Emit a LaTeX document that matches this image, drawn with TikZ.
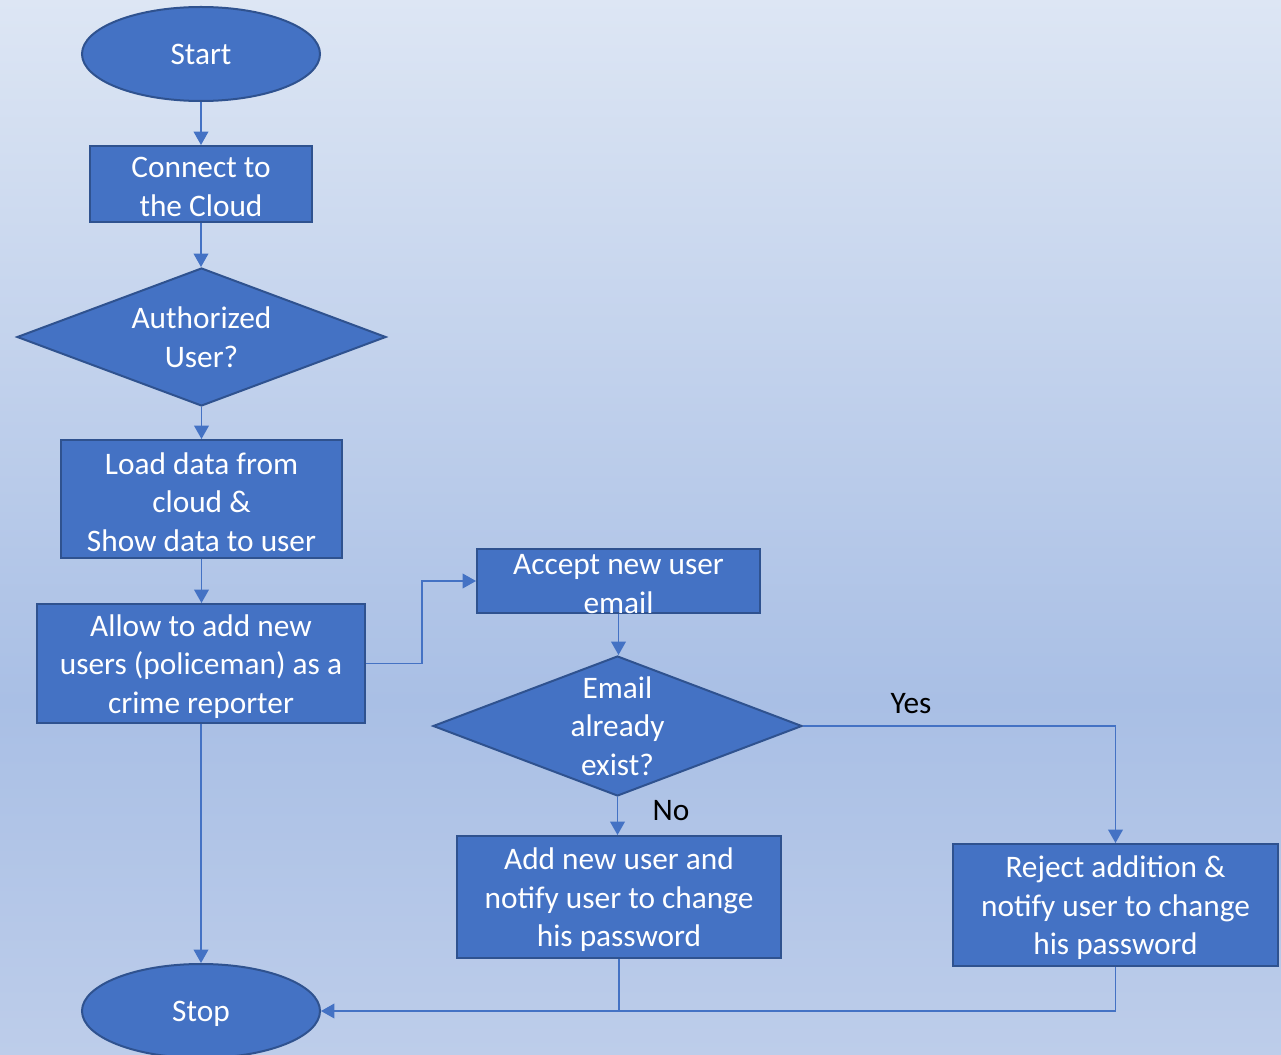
\documentclass[tikz,border=0pt]{standalone}
\usepackage{fontspec}
\setmainfont{Carlito}
\usetikzlibrary{shapes.geometric,arrows.meta}
\definecolor{bgtop}{HTML}{DDE6F4}
\definecolor{bgmid}{HTML}{A9BFE5}
\definecolor{bgbot}{HTML}{BDCDEA}
\definecolor{boxfill}{HTML}{4472C4}
\definecolor{boxline}{HTML}{2F528F}
\definecolor{connc}{HTML}{4472C4}
\begin{document}
\begin{tikzpicture}[x=0.75pt,y=-0.75pt,
  every node/.style={font=\fontsize{23.5}{29}\selectfont},
  flowbox/.style={draw=boxline,line width=1.5pt,fill=boxfill,inner sep=0pt},
  flowtext/.style={text=white,align=center,inner sep=0pt,yshift=-2.2pt},
  dectext/.style={text=white,align=center,inner sep=0pt},
  txt/.style={label={[flowtext]center:#1}},
  dtxt/.style={label={[dectext]center:#1}},
  term/.style={flowbox,ellipse},
  decision/.style={flowbox,diamond},
  arr/.style={draw=connc,line width=1.1pt,-{Triangle[width=11pt,length=10pt]}},
  plain/.style={draw=connc,line width=1.1pt},
  lbl/.style={text=black,inner sep=0pt}]
\shade[top color=bgtop,bottom color=bgmid] (0,0) rectangle (1281,700);
\shade[top color=bgmid,bottom color=bgbot] (0,699.5) rectangle (1281,1055);
\useasboundingbox (0,0) rectangle (1281,1055);

\node[term,minimum width=178.5pt,minimum height=70.5pt,dtxt={Start}] (start) at (201,54) {};
\node[flowbox,minimum width=166.5pt,minimum height=57pt,txt={Connect to\\the Cloud}] (connect) at (201,184) {};
\node[decision,minimum width=276.75pt,minimum height=103.5pt,dtxt={Authorized\\User?}] (auth) at (201.5,337) {};
\node[flowbox,minimum width=210.75pt,minimum height=88.5pt,txt={Load data from\\cloud \&\\Show data to user}] (load) at (201.5,499) {};
\node[flowbox,minimum width=246pt,minimum height=89.25pt,txt={Allow to add new\\users (policeman) as a\\crime reporter}] (allow) at (201,663.5) {};
\node[flowbox,minimum width=212.25pt,minimum height=48pt,txt={Accept new user\\email}] (accept) at (618.5,581) {};
\node[decision,minimum width=276.75pt,minimum height=105pt,dtxt={Email\\already\\exist?}] (email) at (617.5,726) {};
\node[flowbox,minimum width=243pt,minimum height=91.5pt,txt={Add new user and\\notify user to change\\his password}] (add) at (619,897) {};
\node[flowbox,minimum width=243.75pt,minimum height=91.5pt,txt={Reject addition \&\\notify user to change\\his password}] (reject) at (1115.5,905) {};
\node[term,minimum width=178.5pt,minimum height=70.5pt,txt={Stop}] (stop) at (201,1011) {};

\node[lbl] (yes) at (911,704) {Yes};
\node[lbl] (no) at (671,811) {No};

\draw[arr] (start.south) -- (connect.north);
\draw[arr] (connect.south) -- (connect.south |- auth.north);
\draw[arr] (auth.south) -- (auth.south |- load.north);
\draw[arr] (load.south) -- (load.south |- allow.north);
\draw[arr] (allow.east) -- ++(56,0) coordinate (bend) |- (accept.west);
\draw[arr] (accept.south) -- (accept.south |- email.north);
\draw[arr] (email.south) -- (email.south |- add.north);
\draw[arr] (email.east) -| (reject.north);
\draw[arr] (allow.south) -- (stop.north);
\draw[plain] (add.south) -- (add.south |- stop.east);
\draw[arr] (reject.south) |- (stop.east);
\end{tikzpicture}
\end{document}
